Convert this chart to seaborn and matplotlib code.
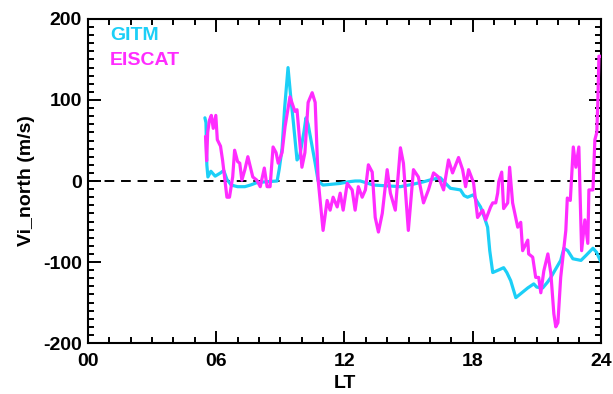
import numpy as np
import pandas as pd
import matplotlib
matplotlib.use("Agg")
import matplotlib.pyplot as plt
import seaborn as sns
from matplotlib.ticker import MultipleLocator

# GITM model, local time (h) and northward ion velocity (m/s)
gitm_lt = [5.47, 5.52, 5.56, 5.61, 5.75, 5.95, 6.2, 6.35, 6.5, 6.7, 7.0, 7.34, 7.6, 7.9, 8.3,
           8.85, 8.95, 9.08, 9.2, 9.36, 9.5, 9.6, 9.78, 9.9, 10.1, 10.2, 10.3, 10.63, 10.77,
           11.0, 11.4, 11.8, 12.18, 12.5, 12.74, 13.0, 13.35, 14.0, 14.62, 15.2, 15.7, 16.1,
           16.49, 16.7, 16.96, 17.2, 17.43, 17.6, 17.76, 18.04, 18.2, 18.37, 18.55, 18.7,
           18.8, 18.94, 19.2, 19.45, 19.6, 19.78, 20.02, 20.3, 20.58, 20.86, 21.0, 21.28,
           21.5, 21.66, 22.12, 22.27, 22.45, 22.69, 23.07, 23.3, 23.63, 23.8, 24.0]
gitm_vn = [78, 72, 20, 5, 12, 6, 10, 13, 2, -5, -7, -7, -5, -2, -1,
           0, 15, 40, 90, 140, 100, 75, 26, 30, 60, 78, 70, 22, 0,
           -5, -4, -3, -1, 0, 0, -2, -5, -6, -7, -4, -1, 2,
           4, -2, -9, -10, -11, -18, -20, -17, -25, -32, -45, -57,
           -86, -113, -110, -107, -113, -123, -144, -138, -132, -127, -131, -132,
           -125, -119, -98, -83, -86, -96, -98, -92, -83, -88, -100]

# EISCAT radar
eiscat_lt = [5.5, 5.55, 5.6, 5.68, 5.77, 5.86, 5.98, 6.05, 6.2, 6.3, 6.5, 6.62, 6.77, 6.86,
             7.0, 7.1, 7.2, 7.34, 7.48, 7.71, 7.9, 8.06, 8.25, 8.38, 8.52, 8.66, 8.8, 8.9,
             9.08, 9.22, 9.45, 9.68, 9.78, 10.01, 10.15, 10.3, 10.49, 10.63, 10.77, 11.0,
             11.19, 11.33, 11.47, 11.66, 11.8, 11.94, 12.13, 12.36, 12.5, 12.65, 12.83,
             12.98, 13.12, 13.3, 13.44, 13.59, 13.77, 14.0, 14.15, 14.38, 14.62, 14.76,
             14.99, 15.23, 15.46, 15.7, 15.93, 16.17, 16.4, 16.64, 16.87, 17.06, 17.34,
             17.53, 17.67, 17.81, 18.04, 18.23, 18.47, 18.61, 18.84, 18.94, 19.08, 19.17,
             19.22, 19.36, 19.45, 19.64, 19.73, 19.87, 20.11, 20.25, 20.34, 20.58, 20.62,
             20.81, 20.95, 21.09, 21.19, 21.33, 21.52, 21.66, 21.8, 21.89, 21.99, 22.12,
             22.36, 22.43, 22.57, 22.71, 22.83, 22.97, 23.06, 23.1, 23.25, 23.39, 23.44,
             23.63, 23.72, 23.81, 23.86, 23.91, 24.0]
eiscat_vn = [55, 25, 60, 75, 81, 65, 81, 51, 43, 25, -20, -20, 5, 38,
             24, 22, 1, 14, 30, 5, 1, -7, 16, -7, -7, 42, 35, 22,
             35, 67, 104, 86, 88, 17, 35, 97, 109, 97, 1, -61,
             -24, -36, -20, -32, -15, -36, -3, -11, -36, -7, -20,
             -11, 20, 11, -45, -63, -40, 14, -15, -36, 41, 22,
             -61, 14, 5, -27, -11, 10, 5, -11, 26, 10, 29,
             14, -7, 14, -2, -45, -36, -48, -32, -27, -27, -15,
             -1, 11, -34, -27, 17, -27, -57, -51, -86, -73, -90,
             -94, -119, -119, -138, -111, -90, -114, -164, -180, -175, -119,
             -61, -21, -24, 42, 17, 42, -48, -86, -48, -77, -11,
             -11, 51, 60, 100, 154, 154]

gitm = pd.DataFrame({"LT": gitm_lt, "v": gitm_vn})
eiscat = pd.DataFrame({"LT": eiscat_lt, "v": eiscat_vn})

sns.set_style("ticks")
plt.rcParams['font.family'] = ["Liberation Sans", "DejaVu Sans"]
plt.rcParams['font.weight'] = "bold"
plt.rcParams['axes.unicode_minus'] = False
for k in ['text.color', 'axes.labelcolor', 'xtick.color', 'ytick.color', 'axes.edgecolor']:
    plt.rcParams[k] = "black"

cyan = "#1ccff7"
magenta = "#ff2cff"
fs = 14

fig = plt.figure(figsize=(6.13, 3.94), dpi=100)
ax = fig.add_axes([0.1436, 0.1294, 0.8366, 0.8224])

ax.axhline(0, color="black", lw=1.4, dashes=(5, 3.5), zorder=1)
sns.lineplot(data=gitm, x="LT", y="v", color=cyan, lw=2.3, ax=ax, zorder=2)
sns.lineplot(data=eiscat, x="LT", y="v", color=magenta, lw=2.3, ax=ax, zorder=3)

ax.set_xlim(0, 24)
ax.set_ylim(-200, 200)
ax.xaxis.set_minor_locator(MultipleLocator(1))
ax.yaxis.set_major_locator(MultipleLocator(100))
ax.yaxis.set_minor_locator(MultipleLocator(10))
ax.set_xticks([0, 6, 12, 18, 24])
ax.set_xticklabels(["00", "06", "12", "18", "24"])
ax.tick_params(which="both", direction="in", top=True, right=True, width=1.4,
               labelsize=fs, color="black")
ax.tick_params(which="major", length=9)
ax.tick_params(which="minor", length=4.5)
ax.tick_params(axis="x", pad=7.5)
ax.tick_params(axis="y", pad=4.5)
for s in ax.spines.values():
    s.set_linewidth(1.5)
    s.set_color("black")

ax.set_xlabel("LT", fontsize=fs, fontweight="bold", labelpad=3)
ax.set_ylabel("Vi_north (m/s)", fontsize=fs, fontweight="bold", labelpad=6)

ax.text(0.043, 0.95, "GITM", color=cyan, fontsize=fs, fontweight="bold",
        transform=ax.transAxes, va="center")
ax.text(0.043, 0.873, "EISCAT", color=magenta, fontsize=fs, fontweight="bold",
        transform=ax.transAxes, va="center")

plt.savefig("out.png", dpi=100)
